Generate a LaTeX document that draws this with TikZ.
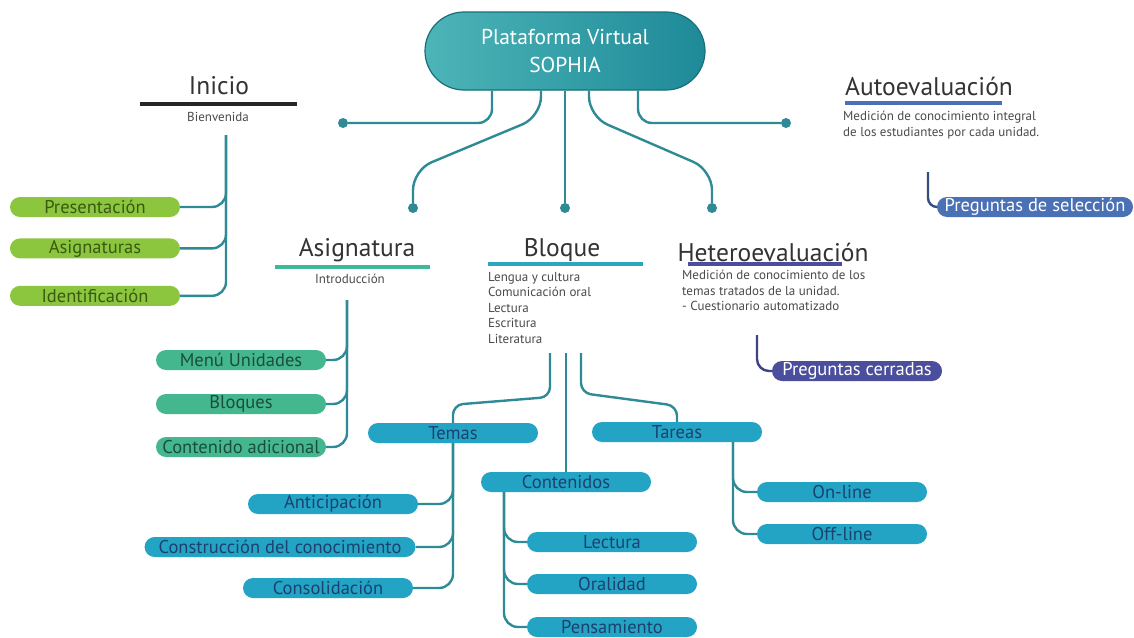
\documentclass[tikz,border=0pt]{standalone}
\usepackage{fontspec}
\setmainfont{PT Sans}
\usepackage{xcolor}
\usepackage{tikz}
\usetikzlibrary{positioning,calc}
\definecolor{plink}{HTML}{2E8B96}
\definecolor{ptopL}{HTML}{4DB5B8}
\definecolor{ptopR}{HTML}{1E8A98}
\definecolor{pgreen}{HTML}{8CC63F}
\definecolor{pgreentx}{HTML}{3A5A12}
\definecolor{pmint}{HTML}{45B78F}
\definecolor{pminttx}{HTML}{1B4D3E}
\definecolor{pcyan}{HTML}{23A4C4}
\definecolor{pcyantx}{HTML}{1C4170}
\definecolor{pasig}{HTML}{3DB89A}
\definecolor{pbloque}{HTML}{2AA7BD}
\definecolor{ppurple}{HTML}{4A4E9C}
\definecolor{pblue}{HTML}{4A70B5}
\definecolor{ptitle}{HTML}{333333}
\definecolor{ptext}{HTML}{4A4A4A}
\newcommand{\fs}[2]{\fontsize{#1}{#2}\selectfont}

\begin{document}
\begin{tikzpicture}[x=1pt,y=-1pt,
  every node/.style={inner sep=0pt},
  title/.style={font=\fs{25.5}{30},text=ptitle},
  note/.style={font=\fs{13}{15.5},text=ptext,align=left},
  pill/.style={rounded corners=10pt,minimum width=170pt,minimum height=20pt,
               inner xsep=6pt,font=\fs{18.5}{20}},
  gpill/.style={pill,fill=pgreen,text=pgreentx},
  mpill/.style={pill,fill=pmint,text=pminttx},
  cpill/.style={pill,fill=pcyan,text=pcyantx},
  link/.style={draw=plink,line width=2.4pt,rounded corners=14pt},
  bar/.style={line width=3.5pt},
  dot/.style={circle,fill=plink,minimum size=10pt}]
  \useasboundingbox[fill=white] (0,0) rectangle (1134,637);

  \node[draw=ptopR!80!black,line width=1.2pt,left color=ptopL,right color=ptopR,
        rounded corners=39pt,minimum width=280pt,minimum height=78pt,
        text=white,font=\fs{21.5}{28},align=center] (sophia) at (565,51)
        {Plataforma Virtual\\SOPHIA};

  \node[dot] (dIni) at (343,123) {};
  \node[dot] (dAsig) at (413,208) {};
  \node[dot] (dBlq) at (565,208) {};
  \node[dot] (dHet) at (712,208) {};
  \node[dot] (dAut) at (786,123) {};
  \draw[link] ([xshift=-73pt]sophia.south) |- (dIni);
  \draw[link,rounded corners=20pt] ([xshift=-24pt]sophia.south) -- ++(0,26)
        -- ($(dAsig)+(0,-38)$) -- (dAsig);
  \draw[link] (sophia.south) -- (dBlq);
  \draw[link,rounded corners=20pt] ([xshift=24pt]sophia.south) -- ++(0,26)
        -- ($(dHet)+(0,-38)$) -- (dHet);
  \draw[link] ([xshift=73pt]sophia.south) |- (dAut);

  % Inicio
  \node[title] (inicio) at (219,86) {Inicio};
  \draw[bar,draw=black!85] (140,104) -- (297,104);
  \node[note] (bienv) at (218,117) {Bienvenida};
  \coordinate (iniTrunk) at (226,135);
  \node[gpill] (present) at (95,207) {Presentación};
  \node[gpill,below=21pt of present] (asigs) {Asignaturas};
  \node[gpill,below=27pt of asigs] (ident) {Identificación};
  \foreach \n in {present,asigs,ident}
    \draw[link] (iniTrunk) |- (\n.east);

  % Asignatura
  \node[title] (asig) at (357,250) {Asignatura};
  \draw[bar,draw=pasig] (275,267) -- (430,267);
  \node[note] (intro) at (350,279) {Introducción};
  \coordinate (asigTrunk) at (347,300);
  \node[mpill] (menu) at (241,360) {Menú Unidades};
  \node[mpill] (bloqs) at (241,404) {Bloques};
  \node[mpill] (contad) at (241,447) {Contenido adicional};
  \foreach \n in {menu,bloqs,contad}
    \draw[link] (asigTrunk) |- (\n.east);

  % Bloque
  \node[title] (bloque) at (562,250) {Bloque};
  \draw[bar,draw=pbloque] (488,264) -- (643,264);
  \node[note,anchor=north west] (bloqtxt) at (488,272)
        {Lengua y cultura\\Comunicación oral\\Lectura\\Escritura\\Literatura};
  \coordinate (bq1) at (550,353);
  \coordinate (bq2) at (566,353);
  \coordinate (bq3) at (581,353);
  \node[cpill] (temas) at (453,433) {Temas};
  \node[cpill] (conts) at (566,482) {Contenidos};
  \node[cpill] (tareas) at (677,432) {Tareas};
  \draw[link,rounded corners=10pt] (bq1) -- ++(0,44)
        -- ($(temas.north)+(0,-18)$) -- (temas.north);
  \draw[link] (bq2) -- (conts.north);
  \draw[link,rounded corners=10pt] (bq3) -- ++(0,40)
        -- ($(tareas.north)+(0,-16)$) -- (tareas.north);

  \node[cpill] (antic) at (333,504) {Anticipación};
  \node[cpill,inner xsep=14pt] (constr) at (280,547) {Construcción del conocimiento};
  \node[cpill] (consol) at (328,588) {Consolidación};
  \foreach \n in {antic,constr,consol}
    \draw[link] (temas.south) |- (\n.east);

  \coordinate (contTrunk) at ([xshift=-62pt]conts.south);
  \node[cpill] (lect) at (612,542) {Lectura};
  \node[cpill] (oral) at (612,584) {Oralidad};
  \node[cpill] (pens) at (612,627) {Pensamiento};
  \foreach \n in {lect,oral,pens}
    \draw[link] (contTrunk) |- (\n.west);

  \coordinate (tarTrunk) at ([xshift=56pt]tareas.south);
  \node[cpill] (online) at (842,492) {On-line};
  \node[cpill] (offline) at (842,534) {Off-line};
  \foreach \n in {online,offline}
    \draw[link] (tarTrunk) |- (\n.west);

  % Heteroevaluacion
  \node[title] (hetero) at (773,252) {Heteroevaluación};
  \draw[bar,draw=ppurple] (688,264) -- (842,264);
  \node[note,anchor=north west] (hettxt) at (682,270)
        {Medición de conocimiento de los\\temas tratados de la unidad.\\- Cuestionario automatizado};
  \coordinate (hetTrunk) at (757,335);
  \node[pill,fill=ppurple,text=white] (cerradas) at (857,371) {Preguntas cerradas};
  \draw[link,draw=ppurple!85!black,rounded corners=12pt] (hetTrunk) |- (cerradas.west);

  % Autoevaluacion
  \node[title] (auto) at (929,86) {Autoevaluación};
  \draw[bar,draw=pblue] (845,103) -- (1002,103);
  \node[note,anchor=north west] (auttxt) at (843,111)
        {Medición de conocimiento integral\\de los estudiantes por cada unidad.};
  \coordinate (autTrunk) at (928,172);
  \node[pill,fill=pblue,text=white,minimum width=196pt] (selec) at (1035,207)
        {Preguntas de selección};
  \draw[link,draw=pblue!70!black,rounded corners=9pt] (autTrunk) |- (selec.west);
\end{tikzpicture}
\end{document}
